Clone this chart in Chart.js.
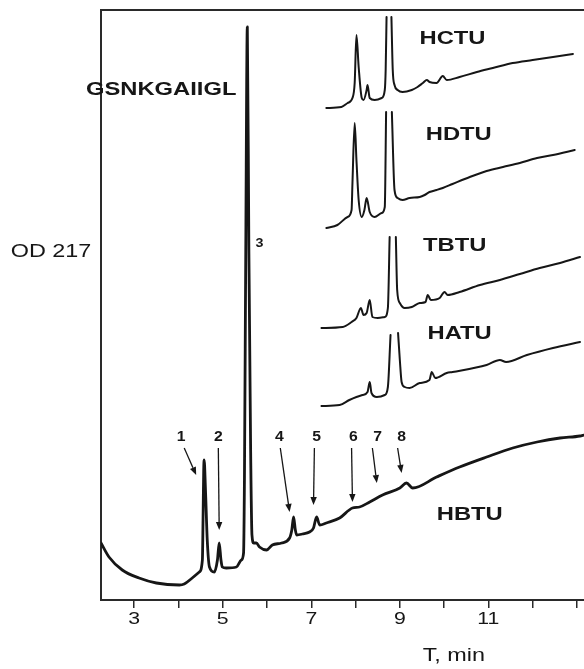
<!DOCTYPE html>
<html>
<head>
<meta charset="utf-8">
<script src="https://cdn.jsdelivr.net/npm/chart.js@4.4.1/dist/chart.umd.min.js"></script>
<style>
  html, body { margin: 0; padding: 0; background: #fff; }
  #wrap { width: 584px; height: 669px; }
</style>
</head>
<body>
<div id="wrap"><canvas id="chroma"></canvas></div>
<script>
// Retention time (min) and absorbance (arbitrary OD units) for each coupling reagent
const hbtuTime = [2.25, 2.43, 2.73, 3.11, 3.50, 4.02, 4.13, 4.31, 4.47, 4.54, 4.555, 4.57, 4.58, 4.61, 4.65, 4.70, 4.81, 4.88, 4.92, 4.96, 4.99, 5.08, 5.31, 5.42, 5.47, 5.49, 5.52, 5.555, 5.59, 5.63, 5.66, 5.70, 5.76, 5.83, 5.99, 6.12, 6.33, 6.51, 6.56, 6.60, 6.64, 6.67, 6.80, 6.96, 7.05, 7.12, 7.19, 7.34, 7.64, 7.93, 8.09, 8.32, 8.61, 9.00, 9.15, 9.29, 9.83, 10.35, 10.96, 11.55, 12.10, 12.62, 13.07, 13.16];
const hbtuOD = [57, 43, 30, 22, 17, 15, 16, 22, 28, 40, 80, 130, 140, 110, 60, 33, 28, 40, 57, 40, 33, 32, 33, 40, 47, 120, 350, 573, 350, 150, 65, 57, 57, 53, 50, 55, 57, 62, 70, 83, 70, 65, 66, 68, 72, 83, 75, 77, 82, 92, 93, 98, 105, 112, 117, 112, 123, 133, 143, 152, 158, 162, 164, 165];

const hctuTime = [7.34, 7.68, 7.82, 7.93, 7.98, 8.02, 8.07, 8.14, 8.18, 8.25, 8.27, 8.32, 8.43, 8.59, 8.66, 8.68, 8.70, 8.76, 8.81, 8.84, 8.88, 8.95, 9.06, 9.27, 9.40, 9.52, 9.61, 9.67, 9.83, 9.97, 10.06, 10.35, 10.74, 11.10, 11.55, 12.00, 12.46, 12.91];
const hctuOD = [492, 493, 497, 502, 517, 565, 533, 502, 500, 510, 515, 502, 500, 502, 510, 530, 583, null, 583, 530, 515, 510, 508, 510, 513, 517, 520, 518, 517, 524, 520, 523, 528, 532, 537, 540, 543, 546];

const hdtuTime = [7.34, 7.59, 7.82, 7.91, 7.93, 7.98, 8.02, 8.07, 8.14, 8.20, 8.25, 8.32, 8.43, 8.59, 8.66, 8.69, 8.76, 8.82, 8.88, 8.95, 9.06, 9.22, 9.45, 9.56, 9.67, 9.83, 9.97, 10.19, 10.58, 10.96, 11.33, 11.71, 12.10, 12.46, 12.95];
const hdtuOD = [372, 375, 383, 390, 417, 477, 440, 400, 383, 390, 402, 388, 383, 387, 393, 488, null, 488, 410, 402, 400, 402, 403, 405, 408, 410, 412, 416, 423, 429, 433, 437, 442, 445, 450];

const tbtuTime = [7.23, 7.71, 7.91, 8.02, 8.12, 8.18, 8.25, 8.32, 8.38, 8.50, 8.66, 8.73, 8.77, 8.84, 8.91, 8.94, 9.00, 9.11, 9.27, 9.45, 9.58, 9.63, 9.70, 9.90, 10.01, 10.08, 10.35, 10.81, 11.26, 11.71, 12.16, 12.62, 13.07];
const tbtuOD = [272, 273, 278, 282, 292, 285, 287, 300, 283, 282, 283, 292, 363, null, 363, 310, 297, 292, 293, 297, 298, 305, 300, 302, 308, 305, 308, 315, 320, 326, 332, 337, 343];

const hatuTime = [7.23, 7.64, 7.86, 8.02, 8.16, 8.27, 8.32, 8.36, 8.48, 8.66, 8.73, 8.79, 8.87, 8.96, 9.00, 9.04, 9.11, 9.22, 9.45, 9.67, 9.72, 9.80, 10.06, 10.19, 10.96, 11.26, 11.40, 11.87, 12.46, 13.07];
const hatuOD = [194, 195, 200, 203, 205, 208, 218, 207, 203, 205, 213, 265, null, 267, 240, 218, 213, 212, 217, 220, 228, 222, 227, 228, 235, 240, 238, 245, 252, 258];

const xTickValues = [3, 4, 5, 6, 7, 8, 9, 10, 11, 12, 13];
const xTickLabels = [3, 5, 7, 9, 11];

// Trace names and where they sit (time, OD)
const traceNames = ["HCTU", "HDTU", "TBTU", "HATU", "HBTU"];
const traceNameTime = [10.19, 10.33, 10.24, 10.35, 10.58];
const traceNameOD = [561, 465, 354, 266, 85];

// Numbered peaks of the HBTU run: label spot, arrow start and arrow tip
const peakIds = ["1", "2", "4", "5", "6", "7", "8"];
const peakLabelTime = [4.06, 4.90, 6.28, 7.12, 7.95, 8.50, 9.04];
const arrowFromTime = [4.13, 4.90, 6.30, 7.07, 7.91, 8.38, 8.95];
const arrowToTime = [4.40, 4.92, 6.51, 7.05, 7.93, 8.48, 9.04];
const arrowToOD = [125, 70, 88, 95, 98, 117, 127];
const peakLabelOD = 163;
const arrowFromOD = 152;

const FONT = "'Liberation Sans', Arial, Helvetica, sans-serif";
const INK = "#161616";

const toPoints = (t, v) => t.map((x, i) => ({ x: x, y: v[i] }));

const makeTrace = (label, t, v, width) => ({
  label: label,
  data: toPoints(t, v),
  borderColor: INK,
  borderWidth: width,
  pointRadius: 0,
  fill: false,
  spanGaps: false,
  cubicInterpolationMode: "monotone",
  borderJoinStyle: "round",
  borderCapStyle: "round",
});

// Text drawn a bit wider than the font's natural width
const wideText = (ctx, text, x, y, font, sx) => {
  ctx.save();
  ctx.translate(x, y);
  ctx.scale(sx, 1);
  ctx.font = font;
  ctx.fillStyle = INK;
  ctx.textAlign = "center";
  ctx.textBaseline = "middle";
  ctx.fillText(text, 0, 0);
  ctx.restore();
};

const arrow = (ctx, x1, y1, x2, y2) => {
  const ang = Math.atan2(y2 - y1, x2 - x1);
  const len = 8;
  const half = 3.2;
  const bx = x2 - len * Math.cos(ang);
  const by = y2 - len * Math.sin(ang);
  ctx.save();
  ctx.strokeStyle = INK;
  ctx.fillStyle = INK;
  ctx.lineWidth = 1.3;
  ctx.beginPath();
  ctx.moveTo(x1, y1);
  ctx.lineTo(bx, by);
  ctx.stroke();
  ctx.beginPath();
  ctx.moveTo(x2, y2);
  ctx.lineTo(bx + half * Math.sin(ang), by - half * Math.cos(ang));
  ctx.lineTo(bx - half * Math.sin(ang), by + half * Math.cos(ang));
  ctx.closePath();
  ctx.fill();
  ctx.restore();
};

const decorations = {
  id: "decorations",
  afterDraw(chart) {
    const { ctx, chartArea } = chart;
    const xs = chart.scales.x;
    const ys = chart.scales.y;

    // top frame line
    ctx.save();
    ctx.strokeStyle = "#2a2a2a";
    ctx.lineWidth = 2;
    ctx.beginPath();
    ctx.moveTo(chartArea.left, chartArea.top);
    ctx.lineTo(chartArea.right, chartArea.top);
    ctx.stroke();
    ctx.restore();

    // x tick labels
    xs.ticks.forEach((tk) => {
      if (!xTickLabels.includes(tk.value)) return;
      wideText(ctx, String(tk.value), xs.getPixelForValue(tk.value), chartArea.bottom + 19, "17px " + FONT, 1.25);
    });

    // axis titles
    wideText(ctx, "T, min", xs.getPixelForValue(10.22), chartArea.bottom + 56, "18px " + FONT, 1.3);
    wideText(ctx, "OD 217", chartArea.left - 50, ys.getPixelForValue(348), "18px " + FONT, 1.3);

    // peptide and reagent names
    wideText(ctx, "GSNKGAIIGL", xs.getPixelForValue(3.61), ys.getPixelForValue(510), "bold 19px " + FONT, 1.25);
    traceNames.forEach((name, i) => {
      wideText(ctx, name, xs.getPixelForValue(traceNameTime[i]), ys.getPixelForValue(traceNameOD[i]), "bold 19px " + FONT, 1.25);
    });

    // main product peak number
    wideText(ctx, "3", xs.getPixelForValue(5.83), ys.getPixelForValue(357), "bold 13px " + FONT, 1.1);

    // numbered impurity peaks with arrows
    peakIds.forEach((id, i) => {
      wideText(ctx, id, xs.getPixelForValue(peakLabelTime[i]), ys.getPixelForValue(peakLabelOD), "bold 15px " + FONT, 1.05);
      arrow(
        ctx,
        xs.getPixelForValue(arrowFromTime[i]), ys.getPixelForValue(arrowFromOD),
        xs.getPixelForValue(arrowToTime[i]), ys.getPixelForValue(arrowToOD[i])
      );
    });
  },
};

const ctx = document.getElementById("chroma").getContext("2d");

new Chart(ctx, {
  type: "line",
  data: {
    datasets: [
      makeTrace("HBTU", hbtuTime, hbtuOD, 2.8),
      makeTrace("HCTU", hctuTime, hctuOD, 2),
      makeTrace("HDTU", hdtuTime, hdtuOD, 2),
      makeTrace("TBTU", tbtuTime, tbtuOD, 2),
      makeTrace("HATU", hatuTime, hatuOD, 2),
    ],
  },
  options: {
    responsive: true,
    maintainAspectRatio: false,
    animation: false,
    layout: {
      padding: { left: 101, top: 10, right: 0, bottom: 61 },
    },
    plugins: {
      legend: { display: false },
      tooltip: { enabled: false },
    },
    scales: {
      x: {
        type: "linear",
        min: 2.25,
        max: 13.16,
        afterBuildTicks: (scale) => {
          scale.ticks = xTickValues.map((v) => ({ value: v }));
        },
        ticks: { display: false },
        grid: {
          display: true,
          drawOnChartArea: false,
          drawTicks: true,
          tickLength: 8,
          color: "#2a2a2a",
          lineWidth: 1.5,
        },
        border: { display: true, color: "#2a2a2a", width: 2 },
      },
      y: {
        type: "linear",
        min: 0,
        max: 590,
        ticks: { display: false },
        grid: { display: false, drawTicks: false },
        border: { display: true, color: "#2a2a2a", width: 2 },
      },
    },
  },
  plugins: [decorations],
});
</script>
</body>
</html>
